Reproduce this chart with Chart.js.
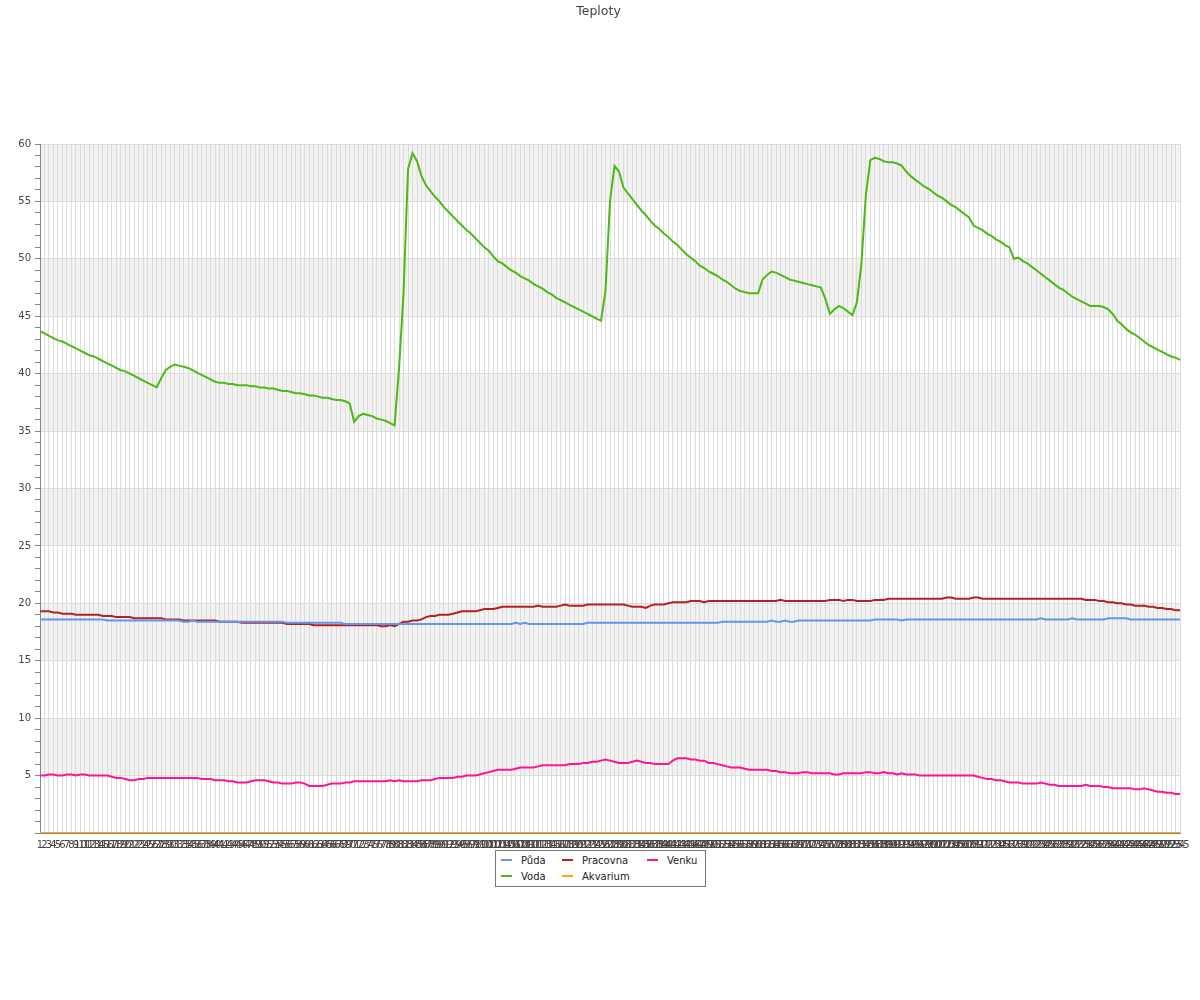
<!DOCTYPE html>
<html lang="cs">
<head>
<meta charset="UTF-8">
<title>Teploty</title>
<script src="https://cdn.jsdelivr.net/npm/chart.js"></script>
<style>
  body { margin: 0; background: #fff; font-family: "DejaVu Sans", sans-serif; }
  #wrap { position: relative; width: 1200px; height: 1000px; }
  #legend {
    position: absolute; top: 850px; left: 495px;
    border: 1px solid #777; background: #fff;
    padding: 1px 5px 2px 5px;
    display: grid; grid-template-rows: 16px 16px; grid-auto-flow: column;
    grid-template-columns: 61px 85px 53px;
    font-size: 10px; color: #222;
  }
  #legend .it { display: flex; align-items: center; white-space: nowrap; }
  #legend .mk { flex: 0 0 11px; width: 11px; height: 2px; margin-right: 9px; }
</style>
</head>
<body>
<div id="wrap">
  <canvas id="ctx" width="1200" height="1000"></canvas>
  <div id="legend"></div>
</div>
<script>
const N = 255;
const labels = [];
for (let i = 1; i <= N; i++) labels.push(String(i));

const puda = [
  18.6,18.6,18.6,18.6,18.6,18.6,18.6,18.6,18.6,18.6,
  18.6,18.6,18.6,18.6,18.6,18.5,18.5,18.5,18.5,18.5,
  18.5,18.5,18.5,18.5,18.5,18.5,18.5,18.5,18.5,18.5,
  18.5,18.5,18.4,18.4,18.5,18.4,18.4,18.4,18.4,18.4,
  18.4,18.4,18.4,18.4,18.4,18.4,18.4,18.4,18.4,18.4,
  18.4,18.4,18.4,18.4,18.4,18.3,18.3,18.3,18.3,18.3,
  18.3,18.3,18.3,18.3,18.3,18.3,18.3,18.3,18.2,18.2,
  18.2,18.2,18.2,18.2,18.2,18.2,18.2,18.2,18.2,18.2,
  18.2,18.2,18.2,18.2,18.2,18.2,18.2,18.2,18.2,18.2,
  18.2,18.2,18.2,18.2,18.2,18.2,18.2,18.2,18.2,18.2,
  18.2,18.2,18.2,18.2,18.2,18.2,18.3,18.2,18.3,18.2,
  18.2,18.2,18.2,18.2,18.2,18.2,18.2,18.2,18.2,18.2,
  18.2,18.2,18.3,18.3,18.3,18.3,18.3,18.3,18.3,18.3,
  18.3,18.3,18.3,18.3,18.3,18.3,18.3,18.3,18.3,18.3,
  18.3,18.3,18.3,18.3,18.3,18.3,18.3,18.3,18.3,18.3,
  18.3,18.3,18.4,18.4,18.4,18.4,18.4,18.4,18.4,18.4,
  18.4,18.4,18.4,18.5,18.4,18.4,18.5,18.4,18.4,18.5,
  18.5,18.5,18.5,18.5,18.5,18.5,18.5,18.5,18.5,18.5,
  18.5,18.5,18.5,18.5,18.5,18.5,18.6,18.6,18.6,18.6,
  18.6,18.6,18.5,18.6,18.6,18.6,18.6,18.6,18.6,18.6,
  18.6,18.6,18.6,18.6,18.6,18.6,18.6,18.6,18.6,18.6,
  18.6,18.6,18.6,18.6,18.6,18.6,18.6,18.6,18.6,18.6,
  18.6,18.6,18.6,18.7,18.6,18.6,18.6,18.6,18.6,18.6,
  18.7,18.6,18.6,18.6,18.6,18.6,18.6,18.6,18.7,18.7,
  18.7,18.7,18.7,18.6,18.6,18.6,18.6,18.6,18.6,18.6,
  18.6,18.6,18.6,18.6,18.6
];

const voda = [
  43.7,43.5,43.3,43.1,42.9,42.8,42.6,42.4,42.2,42.0,
  41.8,41.6,41.5,41.3,41.1,40.9,40.7,40.5,40.3,40.2,
  40.0,39.8,39.6,39.4,39.2,39.0,38.8,39.6,40.3,40.6,
  40.8,40.7,40.6,40.5,40.3,40.1,39.9,39.7,39.5,39.3,
  39.2,39.2,39.1,39.1,39.0,39.0,39.0,38.9,38.9,38.8,
  38.8,38.7,38.7,38.6,38.5,38.5,38.4,38.3,38.3,38.2,
  38.1,38.1,38.0,37.9,37.9,37.8,37.7,37.7,37.6,37.4,
  35.8,36.3,36.5,36.4,36.3,36.1,36.0,35.9,35.7,35.5,
  40.5,47.0,57.8,59.2,58.5,57.2,56.4,55.9,55.4,55.0,
  54.5,54.1,53.7,53.3,52.9,52.5,52.2,51.8,51.4,51.0,
  50.7,50.2,49.8,49.6,49.3,49.0,48.8,48.5,48.3,48.1,
  47.8,47.6,47.4,47.1,46.9,46.6,46.4,46.2,46.0,45.8,
  45.6,45.4,45.2,45.0,44.8,44.6,47.2,55.0,58.1,57.6,
  56.2,55.7,55.2,54.7,54.2,53.8,53.3,52.9,52.6,52.2,
  51.9,51.5,51.2,50.8,50.4,50.1,49.8,49.4,49.2,48.9,
  48.7,48.5,48.2,48.0,47.7,47.4,47.2,47.1,47.0,47.0,
  47.0,48.2,48.6,48.9,48.8,48.6,48.4,48.2,48.1,48.0,
  47.9,47.8,47.7,47.6,47.5,46.5,45.2,45.6,45.9,45.7,
  45.4,45.1,46.2,49.5,55.5,58.6,58.8,58.7,58.5,58.4,
  58.4,58.3,58.1,57.6,57.2,56.9,56.6,56.3,56.1,55.8,
  55.5,55.3,55.0,54.7,54.5,54.2,53.9,53.6,52.9,52.7,
  52.5,52.2,52.0,51.7,51.5,51.2,51.0,50.0,50.1,49.8,
  49.6,49.3,49.0,48.7,48.4,48.1,47.8,47.5,47.3,47.0,
  46.7,46.5,46.3,46.1,45.9,45.9,45.9,45.8,45.6,45.2,
  44.6,44.3,43.9,43.6,43.4,43.1,42.8,42.5,42.3,42.1,
  41.9,41.7,41.5,41.4,41.2
];

const pracovna = [
  19.3,19.3,19.3,19.2,19.2,19.1,19.1,19.1,19.0,19.0,
  19.0,19.0,19.0,19.0,18.9,18.9,18.9,18.8,18.8,18.8,
  18.8,18.7,18.7,18.7,18.7,18.7,18.7,18.7,18.6,18.6,
  18.6,18.6,18.5,18.5,18.5,18.5,18.5,18.5,18.5,18.5,
  18.4,18.4,18.4,18.4,18.4,18.3,18.3,18.3,18.3,18.3,
  18.3,18.3,18.3,18.3,18.3,18.2,18.2,18.2,18.2,18.2,
  18.2,18.1,18.1,18.1,18.1,18.1,18.1,18.1,18.1,18.1,
  18.1,18.1,18.1,18.1,18.1,18.1,18.0,18.0,18.1,18.0,
  18.2,18.4,18.4,18.5,18.5,18.6,18.8,18.9,18.9,19.0,
  19.0,19.0,19.1,19.2,19.3,19.3,19.3,19.3,19.4,19.5,
  19.5,19.5,19.6,19.7,19.7,19.7,19.7,19.7,19.7,19.7,
  19.7,19.8,19.7,19.7,19.7,19.7,19.8,19.9,19.8,19.8,
  19.8,19.8,19.9,19.9,19.9,19.9,19.9,19.9,19.9,19.9,
  19.9,19.8,19.7,19.7,19.7,19.6,19.8,19.9,19.9,19.9,
  20.0,20.1,20.1,20.1,20.1,20.2,20.2,20.2,20.1,20.2,
  20.2,20.2,20.2,20.2,20.2,20.2,20.2,20.2,20.2,20.2,
  20.2,20.2,20.2,20.2,20.2,20.3,20.2,20.2,20.2,20.2,
  20.2,20.2,20.2,20.2,20.2,20.2,20.3,20.3,20.3,20.2,
  20.3,20.3,20.2,20.2,20.2,20.2,20.3,20.3,20.3,20.4,
  20.4,20.4,20.4,20.4,20.4,20.4,20.4,20.4,20.4,20.4,
  20.4,20.4,20.5,20.5,20.4,20.4,20.4,20.4,20.5,20.5,
  20.4,20.4,20.4,20.4,20.4,20.4,20.4,20.4,20.4,20.4,
  20.4,20.4,20.4,20.4,20.4,20.4,20.4,20.4,20.4,20.4,
  20.4,20.4,20.4,20.3,20.3,20.3,20.2,20.2,20.1,20.1,
  20.0,20.0,19.9,19.9,19.8,19.8,19.8,19.7,19.7,19.6,
  19.6,19.5,19.5,19.4,19.4
];

const akvarium = [
  0,0,0,0,0,0,0,0,0,0, 0,0,0,0,0,0,0,0,0,0, 0,0,0,0,0,0,0,0,0,0,
  0,0,0,0,0,0,0,0,0,0, 0,0,0,0,0,0,0,0,0,0, 0,0,0,0,0,0,0,0,0,0,
  0,0,0,0,0,0,0,0,0,0, 0,0,0,0,0,0,0,0,0,0, 0,0,0,0,0,0,0,0,0,0,
  0,0,0,0,0,0,0,0,0,0, 0,0,0,0,0,0,0,0,0,0, 0,0,0,0,0,0,0,0,0,0,
  0,0,0,0,0,0,0,0,0,0, 0,0,0,0,0,0,0,0,0,0, 0,0,0,0,0,0,0,0,0,0,
  0,0,0,0,0,0,0,0,0,0, 0,0,0,0,0,0,0,0,0,0, 0,0,0,0,0,0,0,0,0,0,
  0,0,0,0,0,0,0,0,0,0, 0,0,0,0,0,0,0,0,0,0, 0,0,0,0,0,0,0,0,0,0,
  0,0,0,0,0,0,0,0,0,0, 0,0,0,0,0,0,0,0,0,0, 0,0,0,0,0,0,0,0,0,0,
  0,0,0,0,0,0,0,0,0,0, 0,0,0,0,0,0,0,0,0,0, 0,0,0,0,0,0,0,0,0,0,
  0,0,0,0,0
];

const venku = [
  5.0,5.0,5.1,5.1,5.0,5.0,5.1,5.1,5.0,5.1,
  5.1,5.0,5.0,5.0,5.0,5.0,4.9,4.8,4.8,4.7,
  4.6,4.6,4.7,4.7,4.8,4.8,4.8,4.8,4.8,4.8,
  4.8,4.8,4.8,4.8,4.8,4.8,4.7,4.7,4.7,4.6,
  4.6,4.6,4.5,4.5,4.4,4.4,4.4,4.5,4.6,4.6,
  4.6,4.5,4.4,4.4,4.3,4.3,4.3,4.4,4.4,4.3,
  4.1,4.1,4.1,4.1,4.2,4.3,4.3,4.3,4.4,4.4,
  4.5,4.5,4.5,4.5,4.5,4.5,4.5,4.5,4.6,4.5,
  4.6,4.5,4.5,4.5,4.5,4.6,4.6,4.6,4.7,4.8,
  4.8,4.8,4.8,4.9,4.9,5.0,5.0,5.0,5.1,5.2,
  5.3,5.4,5.5,5.5,5.5,5.5,5.6,5.7,5.7,5.7,
  5.7,5.8,5.9,5.9,5.9,5.9,5.9,5.9,6.0,6.0,
  6.0,6.1,6.1,6.2,6.2,6.3,6.4,6.3,6.2,6.1,
  6.1,6.1,6.2,6.3,6.2,6.1,6.1,6.0,6.0,6.0,
  6.0,6.3,6.5,6.5,6.5,6.4,6.4,6.3,6.3,6.1,
  6.1,6.0,5.9,5.8,5.7,5.7,5.7,5.6,5.5,5.5,
  5.5,5.5,5.5,5.4,5.4,5.3,5.3,5.2,5.2,5.2,
  5.3,5.3,5.2,5.2,5.2,5.2,5.2,5.1,5.1,5.2,
  5.2,5.2,5.2,5.2,5.3,5.3,5.2,5.2,5.3,5.2,
  5.2,5.1,5.2,5.1,5.1,5.1,5.0,5.0,5.0,5.0,
  5.0,5.0,5.0,5.0,5.0,5.0,5.0,5.0,5.0,4.9,
  4.8,4.7,4.7,4.6,4.6,4.5,4.4,4.4,4.4,4.3,
  4.3,4.3,4.3,4.4,4.3,4.2,4.2,4.1,4.1,4.1,
  4.1,4.1,4.1,4.2,4.1,4.1,4.1,4.0,4.0,3.9,
  3.9,3.9,3.9,3.9,3.8,3.8,3.9,3.8,3.7,3.6,
  3.6,3.5,3.5,3.4,3.4
];

const series = [
  { label: 'Půda', data: puda, color: '#6495ed' },
  { label: 'Voda', data: voda, color: '#4cb914' },
  { label: 'Pracovna', data: pracovna, color: '#b22222' },
  { label: 'Akvarium', data: akvarium, color: '#ffa500' },
  { label: 'Venku', data: venku, color: '#ff1493' }
];

// striped bands behind the grid
const bands = {
  id: 'bands',
  beforeDraw(chart) {
    const { ctx, chartArea, scales } = chart;
    ctx.save();
    ctx.fillStyle = '#f2f2f2';
    for (let lo = 55; lo >= 5; lo -= 10) {
      const top = scales.y.getPixelForValue(lo + 5);
      const bot = scales.y.getPixelForValue(lo);
      ctx.fillRect(chartArea.left, top, chartArea.right - chartArea.left, bot - top);
    }
    ctx.restore();
  }
};

Chart.defaults.font.family = '"DejaVu Sans", sans-serif';
Chart.defaults.color = '#444';

const chart = new Chart(document.getElementById('ctx'), {
  type: 'line',
  data: {
    labels: labels,
    datasets: series.map(s => ({
      label: s.label,
      data: s.data,
      borderColor: s.color,
      backgroundColor: s.color,
      borderWidth: 2,
      pointRadius: 0,
      tension: 0,
      fill: false
    }))
  },
  options: {
    responsive: false,
    animation: false,
    events: [],
    layout: { padding: { top: 0, right: 20, bottom: 147, left: 17 } },
    plugins: {
      legend: { display: false },
      tooltip: { enabled: false },
      title: {
        display: true,
        text: 'Teploty',
        color: '#444',
        font: { size: 12.5, weight: 'normal' },
        padding: { top: 4, bottom: 125 }
      }
    },
    scales: {
      x: {
        afterFit(s) { s.height = 20; },
        grid: { color: '#dcdcdc', drawTicks: false },
        border: { color: '#888' },
        ticks: { autoSkip: false, maxRotation: 0, minRotation: 0, padding: 6, font: { size: 10 }, color: '#444' }
      },
      y: {
        min: 0, max: 60,
        afterFit(s) { s.width = 23; },
        border: { color: '#888' },
        grid: {
          color: c => (c.tick && c.tick.value % 5 === 0) ? '#dcdcdc' : 'rgba(0,0,0,0)',
          tickColor: '#888',
          tickLength: 5
        },
        ticks: {
          stepSize: 1,
          autoSkip: false,
          padding: 4,
          font: { size: 10 },
          color: '#444',
          callback: v => (v % 5 === 0 && v !== 0) ? v : ''
        }
      }
    }
  },
  plugins: [bands]
});

// legend in three columns, filled column by column
const leg = document.getElementById('legend');
chart.data.datasets.forEach(d => {
  const it = document.createElement('div');
  it.className = 'it';
  const mk = document.createElement('span');
  mk.className = 'mk';
  mk.style.background = d.borderColor;
  it.appendChild(mk);
  it.appendChild(document.createTextNode(d.label));
  leg.appendChild(it);
});
</script>
</body>
</html>
